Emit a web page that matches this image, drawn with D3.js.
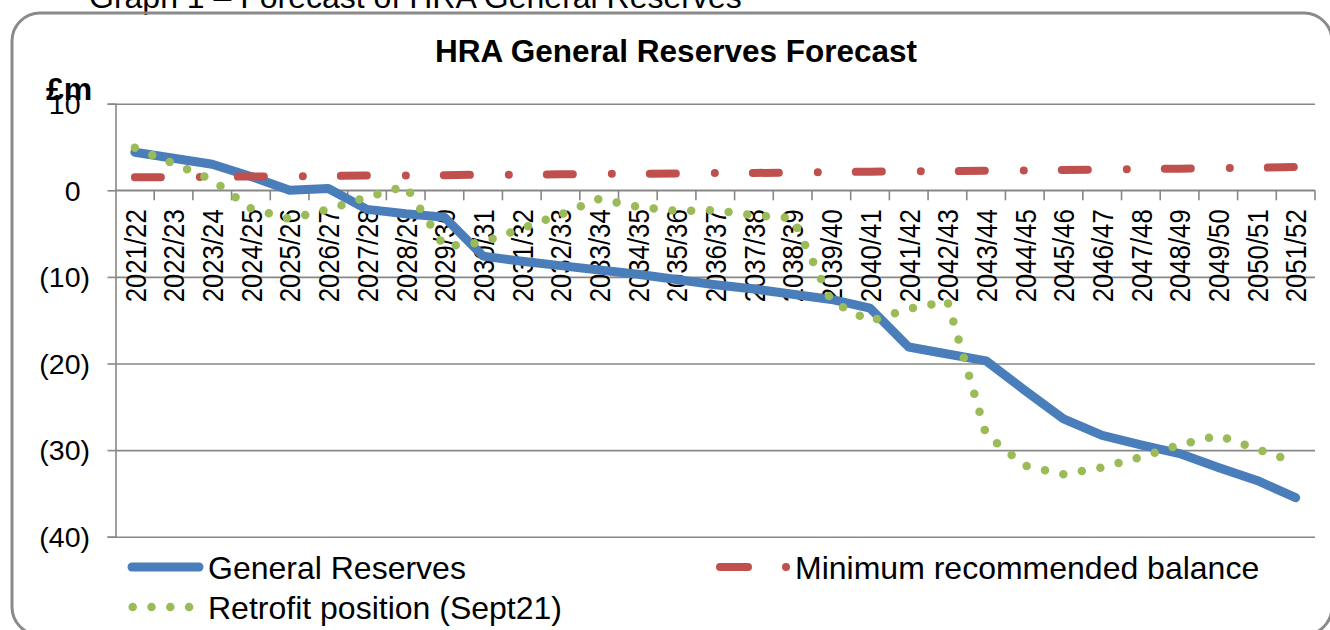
<!DOCTYPE html>
<html>
<head>
<meta charset="utf-8">
<script src="https://cdn.jsdelivr.net/npm/d3@7"></script>
<style>
  html, body { margin: 0; padding: 0; background: #fff; }
  svg { display: block; font-family: "Liberation Sans", Arial, sans-serif; }
</style>
</head>
<body>
<svg id="chart" width="1330" height="630"></svg>
<script>
// ---- data ----
const categories = ["2021/22","2022/23","2023/24","2024/25","2025/26","2026/27","2027/28","2028/29","2029/30","2030/31",
  "2031/32","2032/33","2033/34","2034/35","2035/36","2036/37","2037/38","2038/39","2039/40","2040/41",
  "2041/42","2042/43","2043/44","2044/45","2045/46","2046/47","2047/48","2048/49","2049/50","2050/51","2051/52"];
const generalReserves = [4.4,3.7,3.0,1.6,0.0,0.2,-2.2,-2.7,-3.1,-7.6,
  -8.2,-8.7,-9.2,-9.7,-10.3,-10.9,-11.4,-12.0,-12.6,-13.6,
  -18.1,-18.9,-19.7,-23.1,-26.4,-28.3,-29.4,-30.4,-32.0,-33.5,-35.5];
const minimumBalance = [1.5,1.5,1.55,1.6,1.6,1.65,1.7,1.7,1.75,1.8,
  1.8,1.85,1.9,1.9,1.95,2.0,2.0,2.05,2.1,2.15,
  2.2,2.2,2.25,2.3,2.35,2.4,2.45,2.5,2.55,2.6,2.7];
const retrofit = [4.9,3.1,1.2,-2.1,-3.3,-2.2,-0.8,0.5,-6.5,-6.0,
  -4.4,-2.8,-1.0,-1.9,-2.4,-2.3,-2.9,-3.2,-12.8,-15.1,
  -13.7,-12.8,-28.2,-31.8,-32.8,-32.0,-30.8,-29.4,-28.3,-29.9,-31.4];
const yTicks = [10,0,-10,-20,-30,-40];
const seriesNames = ["General Reserves","Minimum recommended balance","Retrofit position (Sept21)"];
const chartTitle = "HRA General Reserves Forecast";
const captionText = "Graph 1 \u2013 Forecast of HRA General Reserves";
const unitLabel = "\u00a3m";

// ---- setup ----
const svg = d3.select("#chart");
const grid = "#878787";
const blue = "#4A7EBB", red = "#C0504D", green = "#9BBB59";

const x = d3.scaleBand().domain(categories).range([115.5, 1315]).paddingInner(0).paddingOuter(0);
const y = d3.scaleLinear().domain([-40, 10]).range([536.7, 103.7]);
const cx = d => x(d) + x.bandwidth() / 2;

// caption (cut off at top)
svg.append("text").attr("x", 89).attr("y", 8).attr("font-size", 32).attr("fill", "#000").text(captionText);

// frame
svg.append("rect").attr("x", 12).attr("y", 13).attr("width", 1320).attr("height", 622)
  .attr("rx", 28).attr("ry", 28).attr("fill", "none").attr("stroke", "#8a8a8a").attr("stroke-width", 3);

// title
svg.append("text").attr("x", 676).attr("y", 62).attr("text-anchor", "middle")
  .attr("font-size", 31.5).attr("font-weight", "bold").text(chartTitle);

// gridlines
const gridAxis = d3.axisLeft(y).tickValues(yTicks).tickSize(-(1315 - 115.5)).tickFormat("");
svg.append("g").attr("transform", "translate(115.5,0)").call(gridAxis)
  .call(g => g.select(".domain").remove())
  .call(g => g.selectAll("line").attr("stroke", grid).attr("stroke-width", 1.6));

// y axis
const fmt = v => v < 0 ? "(" + Math.abs(v) + ")" : String(v);
const yAxis = d3.axisLeft(y).tickValues(yTicks).tickSize(8).tickPadding(17.5).tickFormat(fmt);
svg.append("g").attr("transform", "translate(115.5,0)").call(yAxis)
  .call(g => g.select(".domain").attr("stroke", grid).attr("stroke-width", 1.6))
  .call(g => g.selectAll("line").attr("stroke", grid).attr("stroke-width", 1.6))
  .call(g => g.selectAll("text").attr("font-size", 28.5).attr("font-family", "Liberation Sans, Arial, sans-serif")
    .attr("fill", "#000").attr("dy", "0.34em").attr("dx", d => d >= 0 ? -9.5 : 0));

// unit label
svg.append("text").attr("x", 46).attr("y", 100).attr("font-size", 32).attr("font-weight", "bold").text(unitLabel);

// x axis at zero
const xAxisG = svg.append("g");
xAxisG.append("line").attr("x1", 115.5).attr("x2", 1315).attr("y1", y(0)).attr("y2", y(0))
  .attr("stroke", grid).attr("stroke-width", 1.6);
const tickPos = categories.map(c => x(c)).concat([x(categories[categories.length - 1]) + x.bandwidth()]);
xAxisG.selectAll("line.tick").data(tickPos.slice(1)).join("line").attr("class", "tick")
  .attr("x1", d => d).attr("x2", d => d).attr("y1", y(0)).attr("y2", y(0) + 10)
  .attr("stroke", grid).attr("stroke-width", 1.6);
xAxisG.selectAll("text").data(categories).join("text")
  .attr("transform", d => `translate(${cx(d)},${y(0) + 19}) rotate(-90)`)
  .attr("text-anchor", "end").attr("dy", "0.36em")
  .attr("font-size", 30).attr("textLength", 93).attr("lengthAdjust", "spacingAndGlyphs")
  .text(d => d);

// series
const line = d3.line().x((d, i) => cx(categories[i])).y(d => y(d));
svg.append("path").datum(generalReserves).attr("d", line).attr("fill", "none")
  .attr("stroke", blue).attr("stroke-width", 9).attr("stroke-linejoin", "round").attr("stroke-linecap", "round");
svg.append("path").datum(minimumBalance).attr("d", line).attr("fill", "none")
  .attr("stroke", red).attr("stroke-width", 8).attr("stroke-linecap", "round")
  .attr("stroke-dasharray", "26,39,0,38");
svg.append("path").datum(retrofit).attr("d", line).attr("fill", "none")
  .attr("stroke", green).attr("stroke-width", 8.5).attr("stroke-linecap", "round")
  .attr("stroke-dasharray", "0,18.8");

// legend
const lg = svg.append("g").attr("font-size", 32);
lg.append("line").attr("x1", 132).attr("x2", 199).attr("y1", 567).attr("y2", 567)
  .attr("stroke", blue).attr("stroke-width", 9).attr("stroke-linecap", "round");
lg.append("text").attr("x", 208).attr("y", 578.5).text(seriesNames[0]);
lg.append("line").attr("x1", 720).attr("x2", 788).attr("y1", 567).attr("y2", 567)
  .attr("stroke", red).attr("stroke-width", 8).attr("stroke-linecap", "round").attr("stroke-dasharray", "28,38,0,60");
lg.append("text").attr("x", 795).attr("y", 578.5).text(seriesNames[1]);
lg.append("line").attr("x1", 132.7).attr("x2", 190).attr("y1", 607).attr("y2", 607)
  .attr("stroke", green).attr("stroke-width", 8.5).attr("stroke-linecap", "round").attr("stroke-dasharray", "0,18.8");
lg.append("text").attr("x", 208).attr("y", 618.5).text(seriesNames[2]);
</script>
</body>
</html>
